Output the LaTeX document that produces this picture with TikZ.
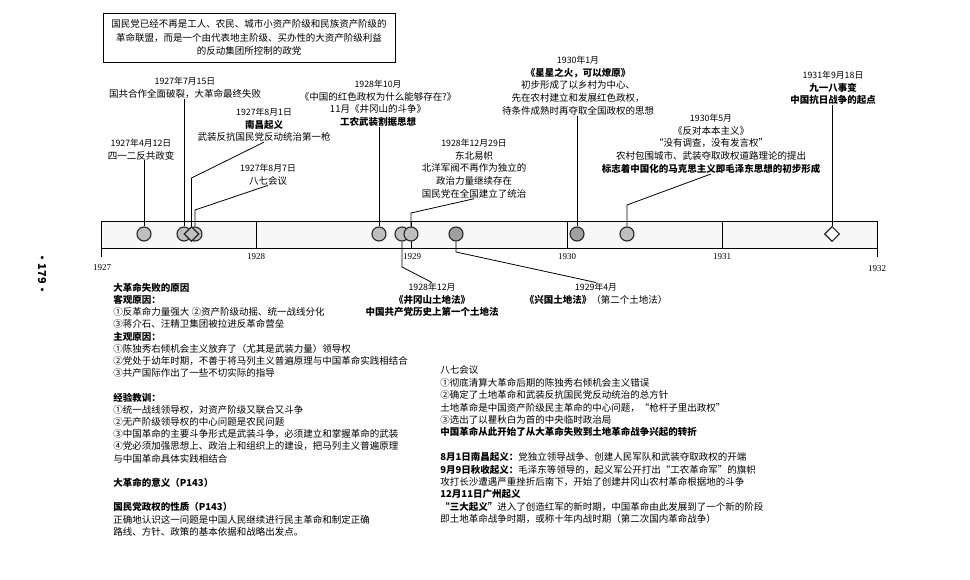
\documentclass[tikz,border=0pt]{standalone}
\usepackage{fontspec}
\setmainfont{Noto Sans CJK SC}
\newfontfamily\yrfont{Liberation Serif}
\usetikzlibrary{shapes.geometric}
\newcommand{\dt}{\fontsize{8.8}{12.8}\selectfont}

\begin{document}
\begin{tikzpicture}[x=1pt, y=-1pt, line width=0.8pt,
	evt/.style={circle, draw=black!85, fill=gray!50, line width=1.1pt, minimum size=14pt, inner sep=0pt},
	evtdark/.style={evt, fill=gray!75},
	evtdia/.style={diamond, draw=black!85, fill=white, line width=1.1pt, minimum size=15pt, inner sep=0pt},
	lbl/.style={align=center, inner sep=0pt, anchor=north, font=\fontsize{9.5}{12.8}\selectfont},
	txt/.style={align=left, inner sep=0pt, anchor=north west},
	yr/.style={font=\yrfont\fontsize{9}{10}\selectfont, inner sep=0pt}]

	\useasboundingbox (0,0) rectangle (970,580);

	% the box at the top
	\node[draw, align=center, minimum width=292pt, minimum height=49pt, font=\fontsize{9.5}{13.5}\selectfont] (kmt) at (249,37.5)
		{国民党已经不再是工人、农民、城市小资产阶级和民族资产阶级的\\
		革命联盟，而是一个由代表地主阶级、买办性的大资产阶级利益\\
		的反动集团所控制的政党};

	% time bar
	\draw[fill=gray!6] (101,221) rectangle (877,248);
	\foreach \x in {256,411,567,722}
		\draw (\x,221) -- (\x,248);
	\draw (101,248) -- (101,257);
	\draw (877,248) -- (877,257);

	\node[yr] (y1927) at (102,268) {1927};
	\node[yr] (y1928) at (256,257) {1928};
	\node[yr] (y1929) at (412,257) {1929};
	\node[yr] (y1930) at (567,257) {1930};
	\node[yr] (y1931) at (722,257) {1931};
	\node[yr] (y1932) at (877,269) {1932};

	% events on the bar
	\node[evt] (m0412) at (144,234) {};
	\node[evt] (m0715) at (184,234) {};
	\node[evt] (m0807) at (195,234) {};
	\node[evtdia, fill=gray!50] (m0801) at (191.5,234) {};
	\node[evt] (m2810) at (379,234) {};
	\node[evt] (m2812) at (402,234) {};
	\node[evt] (m281229) at (411,234) {};
	\node[evtdark] (m2904) at (456,234) {};
	\node[evtdark] (m3001) at (577,234) {};
	\node[evt] (m3005) at (627,234) {};
	\node[evtdia] (m3109) at (832,234) {};

	% labels above
	\node[lbl] (l0412) at (141,138.5) {{\dt 1927年4月12日}\\四一二反共政变};
	\node[lbl] (l0715) at (185,76.5) {{\dt 1927年7月15日}\\国共合作全面破裂，大革命最终失败};
	\node[lbl] (l0801) at (264,107.5) {{\dt 1927年8月1日}\\\textbf{南昌起义}\\武装反抗国民党反动统治第一枪};
	\node[lbl] (l0807) at (268,163.5) {{\dt 1927年8月7日}\\八七会议};
	\node[lbl] (l2810) at (378,79.5) {{\dt 1928年10月}\\《中国的红色政权为什么能够存在?》\\11月《井冈山的斗争》\\\textbf{工农武装割据思想}};
	\node[lbl] (l281229) at (474,138.5) {{\dt 1928年12月29日}\\东北易帜\\北洋军阀不再作为独立的\\政治力量继续存在\\国民党在全国建立了统治};
	\node[lbl] (l3001) at (578,55.5) {{\dt 1930年1月}\\\textbf{《星星之火，可以燎原》}\\初步形成了以乡村为中心、\\先在农村建立和发展红色政权，\\待条件成熟时再夺取全国政权的思想};
	\node[lbl] (l3005) at (711,113.5) {{\dt 1930年5月}\\《反对本本主义》\\“没有调查，没有发言权”\\农村包围城市、武装夺取政权道路理论的提出\\\textbf{标志着中国化的马克思主义即毛泽东思想的初步形成}};
	\node[lbl] (l3109) at (833,70.5) {{\dt 1931年9月18日}\\\textbf{九一八事变}\\\textbf{中国抗日战争的起点}};

	% labels below
	\node[lbl] (l2812) at (432,282.5) {{\dt 1928年12月}\\\textbf{《井冈山土地法》}\\\textbf{中国共产党历史上第一个土地法}};
	\node[lbl] (l2904) at (596,282.5) {{\dt 1929年4月}\\\textbf{《兴国土地法》}（第二个土地法）};

	% connectors
	\coordinate (k0801) at (191.5,178);
	\coordinate (k0807) at (195,210);
	\coordinate (k2812) at (402,267);
	\coordinate (k281229) at (411,213);
	\coordinate (k2904) at (456,252);
	\coordinate (k3005) at (627,205);

	\draw (m0412) -- (m0412 |- l0412.south);
	\draw (m0715) -- (m0715 |- l0715.south);
	\draw (m0801) -- (k0801) -- (l0801.south);
	\draw (m0807) -- (k0807) -- (l0807.south);
	\draw (m2810) -- (m2810 |- l2810.south);
	\draw (m2812) -- (k2812) -- (l2812.north);
	\draw (m281229) -- (k281229) -- (l281229.south);
	\draw (m2904) -- (k2904) -- (l2904.north);
	\draw (m3001) -- (m3001 |- l3001.south);
	\draw (m3005) -- (k3005) -- (l3005.south);
	\draw (m3109) -- (m3109 |- l3109.south);

	% notes
	\node[txt, font=\fontsize{9.5}{12.2}\selectfont] (cause) at (113,282.5)
		{\textbf{大革命失败的原因}\\
		\textbf{客观原因：}\\
		①反革命力量强大 ②资产阶级动摇、统一战线分化\\
		③蒋介石、汪精卫集团被拉进反革命营垒\\
		\textbf{主观原因：}\\
		①陈独秀右倾机会主义放弃了（尤其是武装力量）领导权\\
		②党处于幼年时期，不善于将马列主义普遍原理与中国革命实践相结合\\
		③共产国际作出了一些不切实际的指导\\[12.2pt]
		\textbf{经验教训：}\\
		①统一战线领导权，对资产阶级又联合又斗争\\
		②无产阶级领导权的中心问题是农民问题\\
		③中国革命的主要斗争形式是武装斗争，必须建立和掌握革命的武装\\
		④党必须加强思想上、政治上和组织上的建设，把马列主义普遍原理\\
		与中国革命具体实践相结合\\[12.2pt]
		\textbf{大革命的意义（P143）}\\[12.2pt]
		\textbf{国民党政权的性质（P143）}\\
		正确地认识这一问题是中国人民继续进行民主革命和制定正确\\
		路线、方针、政策的基本依据和战略出发点。};

	\node[txt, font=\fontsize{9.5}{12.4}\selectfont] (bayi) at (440,365.5)
		{八七会议\\
		①彻底清算大革命后期的陈独秀右倾机会主义错误\\
		②确定了土地革命和武装反抗国民党反动统治的总方针\\
		土地革命是中国资产阶级民主革命的中心问题，“枪杆子里出政权”\\
		③选出了以瞿秋白为首的中央临时政治局\\
		\textbf{中国革命从此开始了从大革命失败到土地革命战争兴起的转折}\\[12.4pt]
		\textbf{8月1日南昌起义：}党独立领导战争、创建人民军队和武装夺取政权的开端\\
		\textbf{9月9日秋收起义：}毛泽东等领导的，起义军公开打出“工农革命军”的旗帜\\
		攻打长沙遭遇严重挫折后南下，开始了创建井冈山农村革命根据地的斗争\\
		\textbf{12月11日广州起义}\\
		\textbf{“三大起义”}进入了创造红军的新时期，中国革命由此发展到了一个新的阶段\\
		即土地革命战争时期，或称十年内战时期（第二次国内革命战争）};

	% page number
	\node[rotate=-90, font=\bfseries\fontsize{11}{12}\selectfont] (page) at (42,274) {·179·};
\end{tikzpicture}
\end{document}
